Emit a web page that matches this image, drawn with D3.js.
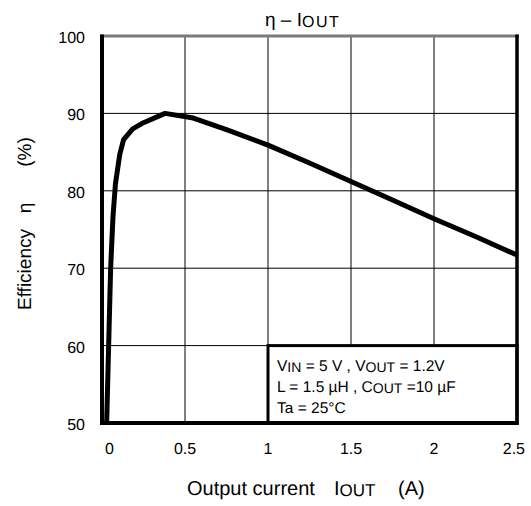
<!DOCTYPE html>
<html>
<head>
<meta charset="utf-8">
<script src="https://cdn.jsdelivr.net/npm/d3@7/dist/d3.min.js"></script>
<style>
  html, body { margin: 0; padding: 0; background: #fff; }
  svg { display: block; font-family: "Liberation Sans", Arial, sans-serif; font-weight: 400; }
  text { text-rendering: geometricPrecision; }
</style>
</head>
<body>
<svg id="chart" width="531" height="506"></svg>
<script>
// ---- data ----
const currentA = [0.028, 0.037, 0.052, 0.066, 0.081, 0.107, 0.13, 0.185, 0.25, 0.38, 0.55, 0.75, 1.0, 1.25, 1.5, 1.75, 2.0, 2.25, 2.5];
const efficiency = [50, 57.5, 70, 76.6, 80.9, 84.7, 86.6, 88.0, 88.8, 90, 89.4, 87.9, 85.9, 83.6, 81.2, 78.8, 76.4, 74.1, 71.7];
const xTicks = [0, 0.5, 1, 1.5, 2, 2.5];
const xTickLabels = ["0", "0.5", "1", "1.5", "2", "2.5"];
const yTicks = [50, 60, 70, 80, 90, 100];
const yTickLabels = ["50", "60", "70", "80", "90", "100"];
const noteLines = [
  [["V", false], ["IN", true], [" = 5 V , V", false], ["OUT", true], [" = 1.2V", false]],
  [["L = 1.5 \u00B5H , C", false], ["OUT", true], [" =10 \u00B5F", false]],
  [["Ta = 25\u00B0C", false]]
];

// ---- layout ----
const svg = d3.select("#chart");
const x = d3.scaleLinear().domain([0, 2.5]).range([102, 517]);
const y = d3.scaleLinear().domain([50, 100]).range([423, 36]);

// grid lines
const g = svg.append("g");
g.selectAll("line.vg").data(xTicks.slice(1, -1)).enter().append("line")
  .attr("x1", d => x(d)).attr("x2", d => x(d))
  .attr("y1", y(100)).attr("y2", y(50))
  .attr("stroke", "#000").attr("stroke-width", 1);
g.selectAll("line.hg").data(yTicks.slice(1, -1)).enter().append("line")
  .attr("x1", x(0)).attr("x2", x(2.5))
  .attr("y1", d => y(d)).attr("y2", d => y(d))
  .attr("stroke", "#000").attr("stroke-width", 1);

// annotation box (white, covers grid)
svg.append("rect")
  .attr("x", x(1)).attr("y", y(60))
  .attr("width", x(2.5) - x(1)).attr("height", y(50) - y(60))
  .attr("fill", "#fff").attr("stroke", "#000").attr("stroke-width", 3);

// frame
svg.append("line").attr("x1", x(0) - 2).attr("x2", x(2.5) + 2).attr("y1", y(100)).attr("y2", y(100))
  .attr("stroke", "#7a7a7a").attr("stroke-width", 3);
svg.append("line").attr("x1", x(0)).attr("x2", x(0)).attr("y1", y(100) - 1.5).attr("y2", y(50) + 2)
  .attr("stroke", "#000").attr("stroke-width", 4);
svg.append("line").attr("x1", x(2.5)).attr("x2", x(2.5)).attr("y1", y(100) - 1.5).attr("y2", y(50) + 2)
  .attr("stroke", "#000").attr("stroke-width", 3.5);
svg.append("line").attr("x1", x(0) - 2).attr("x2", x(2.5) + 1.5).attr("y1", y(50)).attr("y2", y(50))
  .attr("stroke", "#000").attr("stroke-width", 4);

// curve
const line = d3.line().x((d, i) => x(currentA[i])).y(d => y(d)).curve(d3.curveLinear);
svg.append("path").datum(efficiency)
  .attr("d", line)
  .attr("fill", "none").attr("stroke", "#000").attr("stroke-width", 5)
  .attr("stroke-linejoin", "round").attr("stroke-linecap", "butt");

// annotation text
const note = svg.append("g").attr("font-size", 15.5).attr("fill", "#000");
noteLines.forEach((parts, i) => {
  const t = note.append("text").attr("x", 277).attr("y", 371 + i * 21);
  parts.forEach(([s, sub], k) => {
    const ts = t.append("tspan").text(s);
    if (sub) ts.attr("font-size", 14).attr("dy", 1);
    else if (k > 0 && parts[k - 1][1]) ts.attr("dy", -1);
  });
});

// tick labels
svg.append("g").attr("font-size", 16).attr("text-anchor", "end")
  .selectAll("text").data(yTicks).enter().append("text")
  .attr("x", 85).attr("y", d => y(d) + 7)
  .text((d, i) => yTickLabels[i]);
svg.append("g").attr("font-size", 16)
  .selectAll("text").data(xTicks).enter().append("text")
  .attr("x", (d, i) => i === 0 ? x(d) + 3 : (i === xTicks.length - 1 ? x(d) + 8 : x(d)))
  .attr("text-anchor", (d, i) => i === 0 ? "start" : (i === xTicks.length - 1 ? "end" : "middle"))
  .attr("y", 454)
  .text((d, i) => xTickLabels[i]);

// title
const title = svg.append("text").attr("x", 265).attr("y", 26).attr("font-size", 19);
title.append("tspan").text("\u03B7 \u2013 I");
title.append("tspan").text("OUT").attr("font-size", 16).attr("dy", 1).attr("letter-spacing", 1.5);

// x-axis title
svg.append("text").attr("x", 187).attr("y", 495).attr("font-size", 20).text("Output current");
const xt = svg.append("text").attr("x", 334).attr("y", 495).attr("font-size", 20);
xt.append("tspan").text("I");
xt.append("tspan").text("OUT").attr("font-size", 17).attr("dy", 1);
svg.append("text").attr("x", 398).attr("y", 495).attr("font-size", 20).text("(A)");

// y-axis title
const yl = svg.append("g").attr("font-size", 19).attr("text-anchor", "middle");
yl.append("text").attr("transform", "translate(31,269.5) rotate(-90)").text("Efficiency");
yl.append("text").attr("transform", "translate(31,208) rotate(-90)").text("\u03B7");
yl.append("text").attr("transform", "translate(31,152) rotate(-90)").text("(%)");
</script>
</body>
</html>
